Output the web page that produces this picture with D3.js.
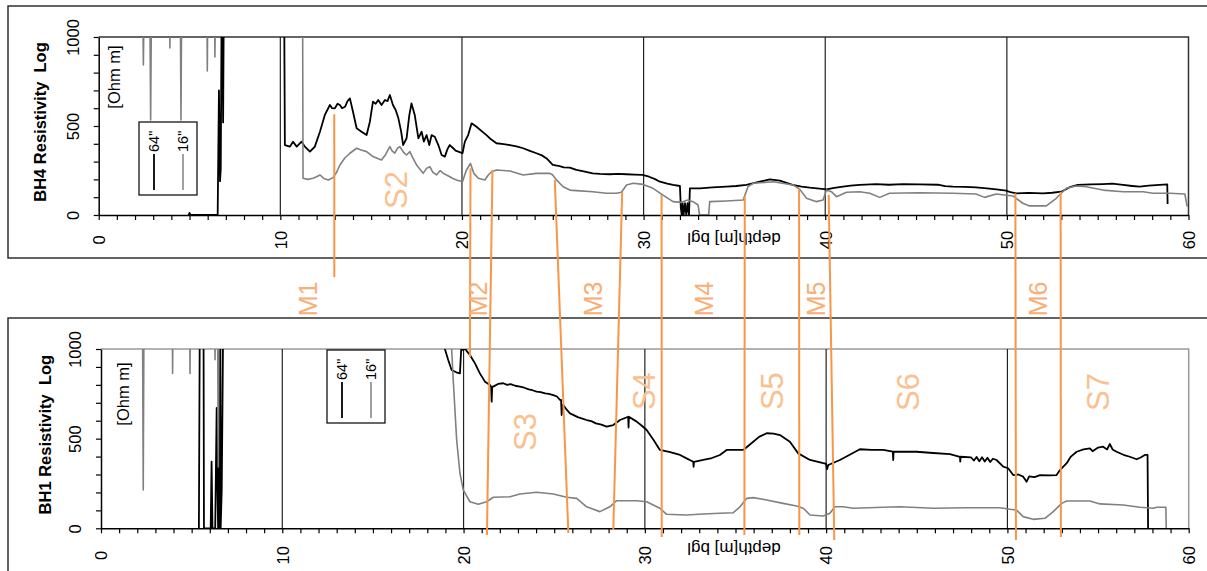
<!DOCTYPE html>
<html>
<head>
<meta charset="utf-8">
<script src="https://cdn.jsdelivr.net/npm/d3@7"></script>
<style>
  html, body { margin: 0; padding: 0; background: #fff; }
  svg { display: block; font-family: Arial, "Liberation Sans", sans-serif; }
</style>
</head>
<body>
<svg id="chart" width="1207" height="571"></svg>
<script>
// ---- Resistivity logs: [depth m, resistivity Ohm m] ----
const bh4Deep = [[4.95,0],[5.0,12],[5.05,0],[6.55,0],[6.62,700],[6.68,190],[6.72,260],[6.78,1400],[6.85,520],[6.9,1400],[7.0,1400],
  [10.2,1400],[10.25,393],[10.53,384],[10.7,412],[10.9,384],[11.17,412],[11.35,384],[11.63,356],[11.9,384],[12.18,468],[12.45,562],
  [12.73,618],[12.85,600],[13.0,599],[13.15,625],[13.28,618],[13.4,600],[13.56,608],[13.7,640],[13.83,655],[14.0,580],[14.2,487],
  [14.47,468],[14.75,449],[14.93,524],[15.1,637],[15.25,625],[15.39,646],[15.57,618],[15.76,646],[15.9,640],[16.03,674],[16.2,618],
  [16.35,590],[16.5,543],[16.65,470],[16.76,393],[16.95,431],[17.1,560],[17.22,627],[17.4,562],[17.6,431],[17.78,468],[17.9,412],
  [18.05,449],[18.2,393],[18.33,449],[18.5,440],[18.7,393],[18.88,337],[19.06,328],[19.2,370],[19.33,393],[19.52,375],[19.65,362],
  [19.8,356],[20.03,347],[20.16,412],[20.34,449],[20.53,515],[20.8,496],[21.1,470],[21.35,449],[21.6,425],[21.9,403],[22.3,398],
  [22.64,393],[23.0,386],[23.37,375],[23.7,362],[24.1,347],[24.4,335],[24.66,318],[25.0,281],[25.38,275],[25.6,268],[25.94,266],
  [26.3,253],[26.7,245],[27.2,234],[27.6,231],[28.14,229],[28.6,231],[29.06,229],[29.5,227],[29.94,225],[30.3,215],[30.6,203],
  [30.9,187],[31.3,176],[31.62,169],[32.0,163],[32.05,40],[32.1,0],[32.15,66],[32.2,0],[32.28,66],[32.35,0],[32.42,66],[32.5,0],
  [32.55,150],[33.1,150],[33.8,155],[34.56,159],[35.1,163],[35.66,169],[36.4,187],[36.95,200],[37.5,193],[38.2,169],[38.7,160],
  [39.15,154],[40.07,144],[40.5,152],[40.98,159],[41.4,165],[41.9,169],[42.8,174],[43.5,170],[44.3,173],[45.2,172],[46.2,170],
  [46.6,162],[47.03,159],[47.7,158],[48.3,155],[48.9,150],[49.42,144],[49.97,137],[50.2,128],[50.52,122],[51.2,124],[51.99,122],
  [52.5,125],[53.0,131],[53.46,156],[53.91,169],[54.6,172],[55.29,174],[55.8,176],[56.4,169],[56.9,163],[57.31,159],[57.8,165],
  [58.41,169],[58.83,172],[58.85,62]];

const bh4Shallow = [[0,1400],[2.4,1400],[2.46,843],[2.52,1400],[2.8,1400],[2.86,534],[2.92,1400],[3.88,1400],[3.92,938],[3.96,1400],
  [4.48,1400],[4.53,534],[4.58,1400],[5.94,1400],[5.98,809],[6.02,1400],[6.36,1400],[6.4,888],[6.44,1400],[11.22,1400],[11.25,206],
  [11.5,200],[11.8,206],[12.0,215],[12.18,225],[12.4,205],[12.64,197],[12.9,210],[13.1,240],[13.28,281],[13.55,320],[13.83,347],
  [14.2,375],[14.45,365],[14.75,356],[15.1,328],[15.3,320],[15.57,309],[15.8,340],[16.03,384],[16.15,360],[16.3,347],[16.45,375],
  [16.58,384],[16.8,350],[16.95,337],[17.13,356],[17.3,320],[17.5,281],[17.7,255],[17.86,234],[18.05,262],[18.23,271],[18.4,240],
  [18.6,225],[18.8,250],[18.97,234],[19.15,225],[19.33,215],[19.5,205],[19.7,197],[20.03,187],[20.15,225],[20.25,253],[20.47,290],
  [20.65,234],[20.9,206],[21.26,197],[21.45,225],[21.63,243],[21.9,253],[22.64,247],[23.37,225],[24.1,234],[24.84,234],[25.0,225],
  [25.2,197],[25.57,159],[25.94,140],[26.3,137],[27.2,131],[27.96,122],[28.5,122],[28.78,128],[29.06,169],[29.42,178],[29.97,172],
  [30.52,150],[31.07,112],[31.62,75],[32.08,71],[32.44,84],[32.72,75],[33.0,56],[33.08,0],[33.58,0],[33.64,75],[34.56,79],[35.48,84],
  [35.75,159],[36.03,178],[37.13,187],[38.23,169],[38.6,144],[38.97,94],[39.52,75],[39.88,84],[40.07,140],[40.34,131],[40.62,103],
  [41.17,128],[41.9,131],[42.45,122],[43.0,99],[43.54,122],[45.2,125],[47.03,122],[48.3,118],[48.77,99],[49.42,118],[50.33,107],
  [50.88,66],[51.25,51],[52.17,51],[52.72,94],[53.27,150],[53.82,163],[54.37,159],[55.29,140],[56.4,131],[57.5,131],[58.05,122],
  [58.97,122],[59.8,118],[59.93,47]];

const bh1Deep = [[5.40,0],[5.46,1400],[5.65,1400],[5.68,0],[6.05,0],[6.1,372],[6.15,0],[6.3,0],[6.38,671],[6.42,250],[6.46,0],[6.5,0],
  [6.52,1400],[6.58,1400],[6.6,0],[6.66,214],[6.7,678],[6.76,1400],[18.85,1400],[18.97,1000],[19.15,940],[19.34,883],[19.6,870],
  [19.8,864],[19.87,1000],[19.9,994],[20.1,1000],[20.2,985],[20.35,967],[20.63,920],[20.9,864],[21.18,818],[21.46,799],[21.52,790],
  [21.55,706],[21.58,790],[21.64,790],[21.9,805],[22.19,809],[22.4,800],[22.6,804],[22.85,795],[23.11,790],[23.35,784],[23.6,775],
  [23.8,770],[24.03,762],[24.25,760],[24.5,752],[24.7,750],[24.95,743],[25.15,735],[25.32,716],[25.38,716],[25.41,632],[25.45,688],
  [25.5,688],[25.7,660],[25.87,641],[26.1,630],[26.3,620],[26.55,612],[26.79,604],[27.05,598],[27.3,585],[27.6,578],[27.89,567],
  [28.26,576],[28.63,604],[29.08,622],[29.1,562],[29.12,622],[29.55,595],[29.8,575],[30.1,548],[30.5,490],[30.83,437],[31.4,425],
  [31.94,409],[32.3,390],[32.67,371],[32.69,343],[32.71,371],[33.22,381],[33.7,392],[34.14,409],[34.51,437],[35.43,437],[35.98,483],
  [36.3,510],[36.72,530],[37.1,528],[37.45,520],[38.0,483],[38.46,418],[39.11,381],[39.84,363],[40.0,360],[40.05,330],[40.12,353],
  [40.76,381],[41.3,410],[41.86,441],[42.5,437],[43.15,437],[43.68,427],[43.7,381],[43.72,427],[44.99,427],[45.9,420],[46.83,414],
  [47.38,399],[47.40,372],[47.42,399],[48.0,395],[48.15,378],[48.3,398],[48.45,374],[48.6,396],[48.75,372],[48.9,394],[49.05,370],
  [49.2,388],[49.4,381],[49.77,344],[50.04,335],[50.32,297],[50.6,300],[50.87,288],[51.06,260],[51.2,290],[51.5,285],[51.8,297],
  [52.3,295],[52.71,297],[52.9,325],[53.27,363],[53.5,400],[53.82,427],[54.2,440],[54.55,446],[54.7,430],[55.0,450],[55.28,455],
  [55.5,440],[55.65,470],[55.8,440],[56.02,427],[56.4,410],[56.75,399],[57.13,385],[57.35,395],[57.58,409],[57.73,409],[57.76,0]];

const bh1Shallow = [[0,1400],[2.28,1400],[2.33,214],[2.38,1400],[3.92,1400],[3.95,864],[3.98,1400],[4.88,1400],[4.91,864],[4.94,1400],
  [6.25,1400],[6.29,940],[6.33,1400],[6.42,1400],[6.47,342],[6.52,1400],[19.3,1400],[19.34,1004],[19.43,827],[19.62,492],[19.8,307],
  [19.98,214],[20.35,148],[20.81,134],[21.27,148],[21.64,173],[22.56,176],[23.11,191],[24.03,201],[24.95,191],[25.69,173],[26.24,167],
  [26.79,120],[27.52,93],[28.07,120],[28.44,154],[29.55,154],[30.1,148],[30.83,112],[31.2,78],[32.3,74],[33.22,80],[34.14,84],
  [34.88,87],[35.25,120],[35.62,167],[35.98,171],[36.72,158],[37.63,139],[38.37,124],[38.74,112],[39.11,74],[39.84,69],[40.21,84],
  [40.48,120],[40.94,120],[41.49,112],[43.15,117],[44.07,120],[45.91,112],[47.75,115],[49.59,115],[50.13,106],[50.5,102],[50.87,65],
  [51.42,50],[52.07,56],[52.53,93],[52.99,139],[53.27,152],[54.55,152],[55.1,136],[56.39,130],[57.31,117],[58.05,112],[58.23,117],
  [58.74,117],[58.76,0]];

// ---- Legend / axis text ----
const seriesNames = ['64"', '16"'];
const depthTicks = [0, 10, 20, 30, 40, 50, 60];
const resTicks = [0, 500, 1000];
const panelTitles = ["BH4 Resistivity  Log", "BH1 Resistivity  Log"];

// ---- Correlation markers between BH4 (upper log) and BH1 (lower log) ----
const markerTopDepth = [12.97, 20.47, 21.68, 25.11, 28.82, 30.99, 35.57, 38.56, 40.19, 50.47, 52.96];
const markerTopRes   = [566, 262, 253, 197, 128, 112, 107, 144, 112, 122, 131];
const markerBotDepth = [12.87, 20.35, 21.29, 25.78, 28.26, 30.93, 35.49, 38.52, 40.45, 50.47, 52.95];
const markerBotRes   = [1401, 955, -37, -26, -10, -48, -37, -37, -65, -65, -48];

const markerLabels = ["M1", "M2", "M3", "M4", "M5", "M6"];
const markerLabelDepth = [11.55, 20.9, 27.25, 33.35, 39.5, 51.75];
const sectionLabels = ["S2", "S3", "S4", "S5", "S6", "S7"];
const sectionLabelPanel = [0, 1, 1, 1, 1, 1];
const sectionLabelDepth = [16.35, 23.4, 29.95, 37.0, 44.5, 55.0];
const sectionLabelRes = [140, 537, 765, 765, 760, 760];

const svg = d3.select("#chart");

const panels = [
  { frame: [8, 6, 1230, 252], x0: 98.7, x1: 1188.5, yTop: 37, yBot: 215, border: "#333",
    deep: bh4Deep, shallow: bh4Shallow, title: panelTitles[0], titleX: 40,
    unitX: 114, legend: { x: 139, y: 122, w: 58, h: 73 }, tickLabelOff: 25, depthTitleY: 239 },
  { frame: [8, 318, 1230, 300], x0: 101, x1: 1188.7, yTop: 349, yBot: 528.3, border: "#9a9a9a",
    deep: bh1Deep, shallow: bh1Shallow, title: panelTitles[1], titleX: 45,
    unitX: 123, legend: { x: 327, y: 350, w: 58, h: 73 }, tickLabelOff: 27, depthTitleY: 549 }
];

panels.forEach(p => {
  p.x = d3.scaleLinear().domain([0, 60]).range([p.x0, p.x1]);
  p.y = d3.scaleLinear().domain([0, 1000]).range([p.yBot, p.yTop]);
});

panels.forEach((p, i) => {
  const g = svg.append("g");

  // outer chart frame
  g.append("rect")
    .attr("x", p.frame[0]).attr("y", p.frame[1])
    .attr("width", p.frame[2]).attr("height", p.frame[3])
    .attr("fill", "none").attr("stroke", "#222").attr("stroke-width", 1.4);

  // plot-area border (top and right)
  g.append("path")
    .attr("d", `M${p.x(0)},${p.y(1000)}H${p.x(60)}V${p.y(0)}`)
    .attr("fill", "none").attr("stroke", p.border).attr("stroke-width", 1.5);

  // vertical gridlines every 10 m
  g.selectAll(".grid").data([10, 20, 30, 40, 50]).join("line")
    .attr("x1", d => p.x(d)).attr("x2", d => p.x(d))
    .attr("y1", p.y(1000)).attr("y2", p.y(0))
    .attr("stroke", "#222").attr("stroke-width", 1.2);

  // clipped series
  const clipId = "clip" + i;
  svg.append("clipPath").attr("id", clipId).append("rect")
    .attr("x", p.x(0)).attr("y", p.y(1000))
    .attr("width", p.x(60) - p.x(0)).attr("height", p.y(0) - p.y(1000));

  const line = d3.line().x(d => p.x(d[0])).y(d => p.y(d[1]));
  const plot = g.append("g").attr("clip-path", `url(#${clipId})`);
  plot.append("path").datum(p.deep).attr("d", line)
    .attr("fill", "none").attr("stroke", "#000").attr("stroke-width", 1.8)
    .attr("stroke-linejoin", "round");
  plot.append("path").datum(p.shallow).attr("d", line)
    .attr("fill", "none").attr("stroke", "#808080").attr("stroke-width", 1.6)
    .attr("stroke-linejoin", "round");

  // depth axis
  const xAxis = d3.axisBottom(p.x)
    .tickValues(d3.range(0, 61, 1))
    .tickSize(5).tickSizeOuter(0)
    .tickFormat(d => depthTicks.includes(d) ? d : "");
  const gx = g.append("g").attr("transform", `translate(0,${p.y(0)})`).call(xAxis);
  gx.select(".domain").attr("stroke", "#000").attr("stroke-width", 1.5);
  gx.selectAll(".tick line").attr("stroke", "#000").attr("stroke-width", 1.2);
  gx.selectAll(".tick text")
    .attr("transform", "rotate(-90)")
    .attr("x", -p.tickLabelOff).attr("y", 0).attr("dy", "0.35em")
    .attr("text-anchor", "middle")
    .attr("font-size", 16.5).attr("fill", "#000")
    .attr("font-family", "Arial, 'Liberation Sans', sans-serif");

  // resistivity axis
  const yAxis = d3.axisLeft(p.y)
    .tickValues(d3.range(0, 1001, 100))
    .tickSize(5).tickSizeOuter(0)
    .tickFormat(d => resTicks.includes(d) ? d : "");
  const gy = g.append("g").attr("transform", `translate(${p.x(0)},0)`).call(yAxis);
  gy.select(".domain").attr("stroke", "#000").attr("stroke-width", 1.5);
  gy.selectAll(".tick line").attr("stroke", "#000").attr("stroke-width", 1.2);
  gy.selectAll(".tick text")
    .attr("transform", "rotate(-90)")
    .attr("x", 0).attr("y", -25.5).attr("dy", "0.35em")
    .attr("text-anchor", "middle")
    .attr("font-size", 16.5).attr("fill", "#000")
    .attr("font-family", "Arial, 'Liberation Sans', sans-serif");

  // axis titles
  const yMid = (p.yTop + p.yBot) / 2;
  g.append("text")
    .attr("transform", `translate(${p.titleX},${yMid - 4}) rotate(-90)`)
    .attr("text-anchor", "middle").attr("dy", "0.35em")
    .attr("font-size", 16.5).attr("font-weight", "bold")
    .style("white-space", "pre")
    .text(p.title);

  g.append("text")
    .attr("transform", `translate(${p.unitX},${p.yTop + 40 + (i ? 5 : 0)}) rotate(-90)`)
    .attr("text-anchor", "middle").attr("dy", "0.35em")
    .attr("font-size", 16.5)
    .text("[Ohm m]");

  g.append("text")
    .attr("transform", `translate(734,${p.depthTitleY}) rotate(180)`)
    .attr("text-anchor", "middle").attr("dy", "0.35em")
    .attr("font-size", 17)
    .text("depth[m] bgl");

  // legend
  const L = p.legend;
  g.append("rect").attr("x", L.x).attr("y", L.y).attr("width", L.w).attr("height", L.h)
    .attr("fill", "#fff").attr("stroke", "#000").attr("stroke-width", 1.2);
  const items = g.selectAll(".leg").data(seriesNames).join("g")
    .attr("transform", (d, k) => `translate(${L.x + 15 + 29 * k},0)`);
  items.append("line")
    .attr("x1", 0).attr("x2", 0)
    .attr("y1", L.y + L.h - 5).attr("y2", L.y + L.h - 41)
    .attr("stroke", (d, k) => k ? "#808080" : "#000")
    .attr("stroke-width", (d, k) => k ? 1.5 : 1.8);
  items.append("text")
    .attr("transform", `translate(0,${L.y + L.h - 43}) rotate(-90)`)
    .attr("text-anchor", "start").attr("dy", "0.35em")
    .attr("font-size", 14.5)
    .text(d => d);
});

// correlation markers
const upperLog = panels[0], lowerLog = panels[1];
svg.append("g").selectAll("line").data(markerTopDepth).join("line")
  .attr("x1", d => upperLog.x(d))
  .attr("y1", (d, k) => upperLog.y(markerTopRes[k]))
  .attr("x2", (d, k) => lowerLog.x(markerBotDepth[k]))
  .attr("y2", (d, k) => lowerLog.y(markerBotRes[k]))
  .attr("stroke", "#f79646").attr("stroke-width", 2);

svg.append("g").selectAll("text").data(markerLabels).join("text")
  .attr("transform", (d, k) => `translate(${upperLog.x(markerLabelDepth[k])},299) rotate(-90)`)
  .attr("text-anchor", "middle").attr("dy", "0.35em")
  .attr("font-size", 25).attr("fill", "#f8ae74")
  .text(d => d);

svg.append("g").selectAll("text").data(sectionLabels).join("text")
  .attr("transform", (d, k) => {
    const p = panels[sectionLabelPanel[k]];
    return `translate(${p.x(sectionLabelDepth[k])},${p.y(sectionLabelRes[k])}) rotate(-90)`;
  })
  .attr("text-anchor", "middle").attr("dy", "0.35em")
  .attr("font-size", 31).attr("fill", "#fac08f")
  .text(d => d);
</script>
</body>
</html>
